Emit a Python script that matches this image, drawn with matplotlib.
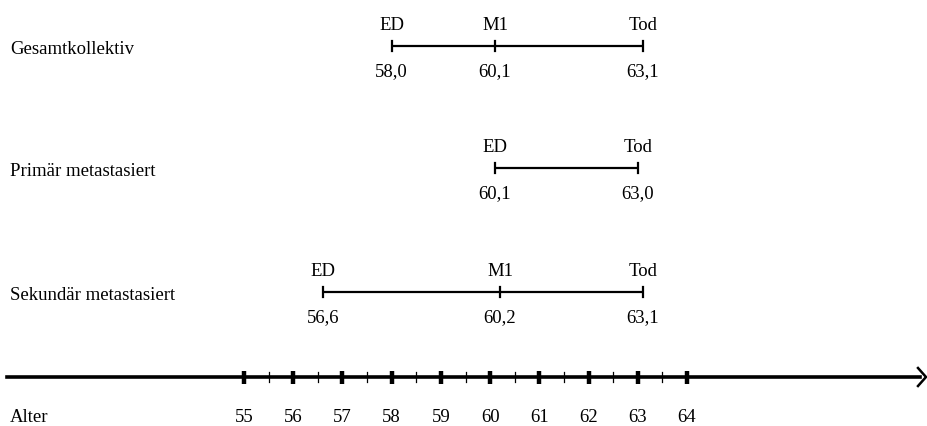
import numpy as np
import matplotlib.pyplot as plt

plt.rcParams['font.family'] = ['Liberation Serif', 'DejaVu Serif']

# data
groups = ['Gesamtkollektiv', 'Primär metastasiert', 'Sekundär metastasiert']
gesamt_events = ['ED', 'M1', 'Tod']
gesamt_ages = [58.0, 60.1, 63.1]
primaer_events = ['ED', 'Tod']
primaer_ages = [60.1, 63.0]
sekundaer_events = ['ED', 'M1', 'Tod']
sekundaer_ages = [56.6, 60.2, 63.1]
axis_years = [55, 56, 57, 58, 59, 60, 61, 62, 63, 64]
axis_label = 'Alter'

rows = [(gesamt_events, gesamt_ages),
        (primaer_events, primaer_ages),
        (sekundaer_events, sekundaer_ages)]

W, H = 927, 426
fig = plt.figure(figsize=(W / 100, H / 100), dpi=100)
ax = fig.add_axes([0, 0, 1, 1])
ax.axis('off')

# x in years (55 -> 244 px, 64 -> 687 px), y in pixels from top
px_per_year = (687 - 244) / 9
x0 = 55 - 244 / px_per_year
ax.set_xlim(x0, x0 + W / px_per_year)
ax.set_ylim(H, 0)

fs = 13.5
bar_y = [46, 168, 292]
label_left = 10 / px_per_year + x0

for (events, ages), name, y in zip(rows, groups, bar_y):
    ax.plot([ages[0], ages[-1]], [y, y], color='black', lw=1.6, solid_capstyle='butt')
    for ev, a in zip(events, ages):
        ax.plot([a, a], [y - 5, y + 5], color='black', lw=1.6)
        ax.text(a, y - 20, ev, ha='center', va='center', fontsize=fs)
        ax.text(a, y + 26, f'{a:.1f}'.replace('.', ','), ha='center', va='center', fontsize=fs)
    ax.text(label_left, y + 4, name, ha='left', va='center', fontsize=fs)

# age axis with arrow
axis_y = 377
ax.plot([0.15 + x0, x0 + 920 / px_per_year], [axis_y, axis_y], color='black', lw=2.6)
tip = x0 + 926 / px_per_year
back = x0 + 918 / px_per_year
ax.plot([back, tip, back], [axis_y - 9, axis_y, axis_y + 9], color='black', lw=1.8)
for yr in axis_years:
    ax.plot([yr, yr], [axis_y - 6.5, axis_y + 6.5], color='black', lw=3.2, solid_capstyle='butt')
    ax.text(yr, 417, str(yr), ha='center', va='center', fontsize=fs)
for half in np.array(axis_years[:-1]) + 0.5:
    ax.plot([half, half], [axis_y - 5, axis_y + 5], color='black', lw=0.9)
ax.text(label_left, 417, axis_label, ha='left', va='center', fontsize=fs)

fig.savefig('out.png', dpi=100)
